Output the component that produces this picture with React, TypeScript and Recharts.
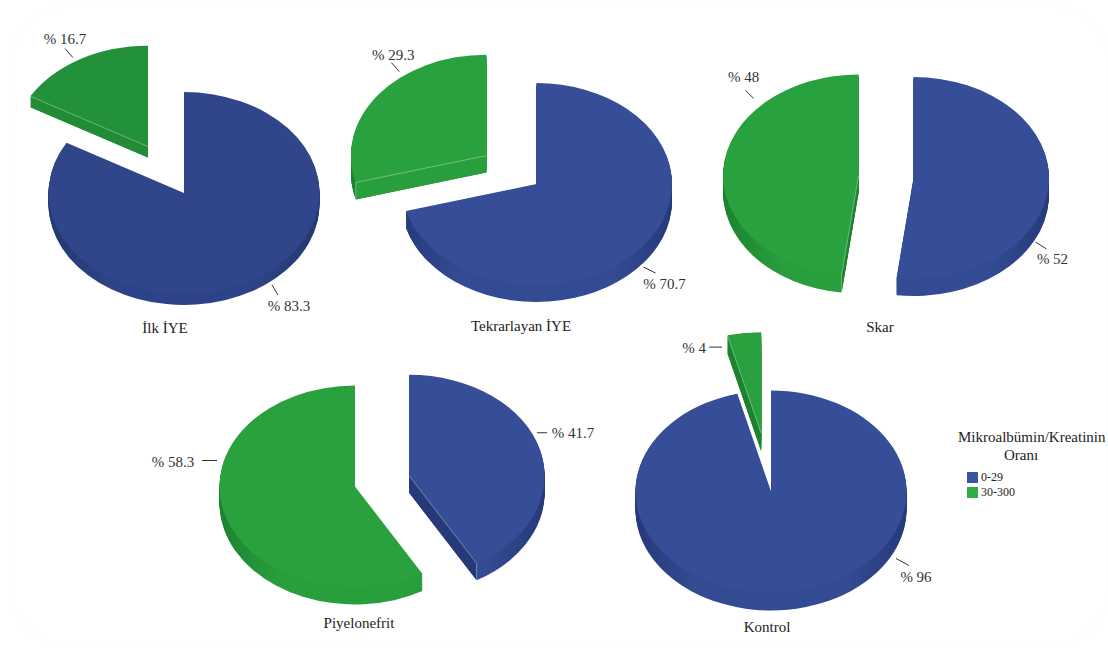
import React from "react";
import { PieChart, Pie, Sector, Legend } from "recharts";

const groups = ["İlk İYE", "Tekrarlayan İYE", "Skar", "Piyelonefrit", "Kontrol"];
const seriesNames = ["0-29", "30-300"];
const lowValues = [83.3, 70.7, 52, 41.7, 96];
const highValues = [16.7, 29.3, 48, 58.3, 4];
const legendTitle = "Mikroalbümin/Kreatinin";
const legendSubtitle = "Oranı";

const RAD = Math.PI / 180;
const RADIUS = 135.5;
const FLATTEN = 0.745;
const FONT = '"Liberation Serif", "Times New Roman", serif';

type Leader = { from: number[]; to: number[]; text: number[] };
type Layout = {
  cx: number;
  cy: number;
  depth: number;
  explode: number[];
  colors: string[];
  walls: string[][];
  title: number[];
  leaders: Leader[];
};

const BLUE = "#354e97";
const GREEN = "#29a13f";
const BLUE_WALL = ["#263a7a", "#334b93"];
const GREEN_WALL = ["#1c8230", "#289e3d"];

// each group: centre of the top face, wall height, how far each slice is pulled out
const layouts: Layout[] = [
  {
    cx: 184, cy: 193, depth: 11, explode: [0, 72],
    colors: ["#30458a", "#239139"],
    walls: [["#243872", "#2e4387"], ["#1a7a2d", "#218b36"]],
    title: [165, 328],
    leaders: [
      { from: [88, 92], to: [94, 102], text: [105, 113] },
      { from: [-75, -89], to: [-83, -98], text: [-83, -108] },
    ],
  },
  {
    cx: 536.5, cy: 184, depth: 17, explode: [0, 63],
    colors: [BLUE, GREEN], walls: [BLUE_WALL, GREEN_WALL],
    title: [521, 326],
    leaders: [
      { from: [107, 83], to: [119, 89], text: [128, 100] },
      { from: [-87, -84], to: [-95, -93], text: [-93, -101] },
    ],
  },
  {
    cx: 913.5, cy: 178, depth: 17, explode: [0, 55],
    colors: [BLUE, GREEN], walls: [BLUE_WALL, GREEN_WALL],
    title: [880, 327],
    leaders: [
      { from: [122, 64], to: [133, 71], text: [139, 81] },
      { from: [-105, -77], to: [-113, -85], text: [-115, -98] },
    ],
  },
  {
    cx: 355, cy: 486.5, depth: 17, explode: [56, 0],
    colors: [BLUE, GREEN], walls: [BLUE_WALL, GREEN_WALL],
    title: [359, 623],
    leaders: [
      { from: [128, -43], to: [138, -43], text: [164, -43] },
      { from: [-138, -26], to: [-153, -26], text: [-182, -25] },
    ],
  },
  {
    cx: 771, cy: 491.5, depth: 18, explode: [0, 79],
    colors: [BLUE, GREEN], walls: [BLUE_WALL, GREEN_WALL],
    title: [767, 627],
    leaders: [
      { from: [125, 67], to: [138, 74], text: [145, 85] },
      { from: [-39, -86], to: [-52, -86], text: [-67, -85] },
    ],
  },
];

const legendColors = ["#3a54a5", "#2cae48"];

const sliceOffset = (midAngle: number, dist: number) => [
  Math.cos(midAngle * RAD) * dist,
  -Math.sin(midAngle * RAD) * dist * FLATTEN,
];

// one slice: darker copies stacked downward for the wall, the top face last
function Slice3D(props: any, layoutIndex: number) {
  const { cx, cy, startAngle, endAngle, midAngle, index } = props;
  const cfg = layouts[layoutIndex];
  const [ox, oy] = sliceOffset(midAngle, cfg.explode[index]);
  const face = (dy: number) =>
    `translate(${ox} ${oy + dy}) translate(${cx} ${cy}) scale(1 ${FLATTEN}) translate(${-cx} ${-cy})`;
  const gradId = `wall-${layoutIndex}-${index}`;
  const [dark, mid] = cfg.walls[index];
  const sector = (fill: string) => (
    <Sector cx={cx} cy={cy} innerRadius={0} outerRadius={RADIUS}
      startAngle={startAngle} endAngle={endAngle} fill={fill} stroke="none" />
  );

  const layers = [];
  for (let i = cfg.depth; i > 0; i--) {
    layers.push(<g key={i} transform={face(i)}>{sector(`url(#${gradId})`)}</g>);
  }

  // cut edges whose wall faces the viewer get a flat face and a light seam
  const ax = cx + ox;
  const ay = cy + oy;
  const cuts = [
    { angle: startAngle, visible: Math.cos(startAngle * RAD) < -0.01 },
    { angle: endAngle, visible: Math.cos(endAngle * RAD) > 0.01 },
  ].filter((s) => s.visible);

  return (
    <g>
      <defs>
        <linearGradient id={gradId} gradientUnits="userSpaceOnUse"
          x1={cx - RADIUS} y1="0" x2={cx + RADIUS} y2="0">
          <stop offset="0" stopColor={dark} />
          <stop offset="0.22" stopColor={mid} />
          <stop offset="0.78" stopColor={mid} />
          <stop offset="1" stopColor={dark} />
        </linearGradient>
      </defs>
      {layers}
      <g transform={face(0)}>{sector(cfg.colors[index])}</g>
      {cuts.map((s) => {
        const ex = ax + Math.cos(s.angle * RAD) * RADIUS;
        const ey = ay - Math.sin(s.angle * RAD) * RADIUS * FLATTEN;
        // steep cuts turn away from the light
        const steep = Math.abs(Math.cos(s.angle * RAD)) < 0.6;
        return (
          <g key={s.angle}>
            <polygon
              points={`${ax},${ay} ${ex},${ey} ${ex},${ey + cfg.depth} ${ax},${ay + cfg.depth}`}
              fill={steep ? dark : mid}
            />
            <g stroke="#ffffff" strokeOpacity={0.35} fill="none">
              <line x1={ax} y1={ay} x2={ex} y2={ey} />
              <line x1={ex} y1={ey} x2={ex} y2={ey + cfg.depth} />
            </g>
          </g>
        );
      })}
    </g>
  );
}

function SliceLabel(props: any, layoutIndex: number) {
  const { midAngle, index, value } = props;
  const cfg = layouts[layoutIndex];
  const [ox, oy] = sliceOffset(midAngle, cfg.explode[index]);
  const x = cfg.cx + ox;
  const y = cfg.cy + oy;
  const { from, to, text } = cfg.leaders[index];
  return (
    <g>
      <line x1={x + from[0]} y1={y + from[1]} x2={x + to[0]} y2={y + to[1]} stroke="#333333" />
      <text x={x + text[0]} y={y + text[1]} textAnchor="middle" dominantBaseline="central"
        fontFamily={FONT} fontSize={15} fill="#333333">
        {`% ${value}`}
      </text>
    </g>
  );
}

function LegendBox() {
  return (
    <div style={{ fontFamily: FONT, color: "#222222", width: 150 }}>
      <div style={{ fontSize: 15, lineHeight: "18px", whiteSpace: "nowrap" }}>{legendTitle}</div>
      <div style={{ fontSize: 15, lineHeight: "18px", paddingLeft: 46 }}>{legendSubtitle}</div>
      <div style={{ marginTop: 6, paddingLeft: 9 }}>
        {seriesNames.map((name, i) => (
          <div key={name} style={{ display: "flex", alignItems: "center", height: 15, fontSize: 12 }}>
            <span style={{ width: 11, height: 11, background: legendColors[i], marginRight: 3 }} />
            {name}
          </div>
        ))}
      </div>
    </div>
  );
}

export default function App() {
  return (
    <div style={{ position: "absolute", left: 0, top: 0, width: 1108, height: 649 }}>
      <PieChart width={1108} height={649} margin={{ top: 0, right: 0, bottom: 0, left: 0 }}>
        {/* faint rounded frame of the plot area */}
        <rect x={13} y={7} width={1094} height={636} rx={50} fill="none" stroke="#fcfcfc" />
        {groups.map((group, g) => (
          <Pie
            key={group}
            data={[
              { name: seriesNames[0], value: lowValues[g] },
              { name: seriesNames[1], value: highValues[g] },
            ]}
            dataKey="value"
            nameKey="name"
            cx={layouts[g].cx}
            cy={layouts[g].cy}
            outerRadius={RADIUS}
            startAngle={90}
            endAngle={-270}
            stroke="none"
            isAnimationActive={false}
            shape={(p: any) => Slice3D(p, g)}
            label={(p: any) => SliceLabel(p, g)}
            labelLine={false}
          />
        ))}
        {groups.map((group, g) => (
          <text key={group} x={layouts[g].title[0]} y={layouts[g].title[1]} textAnchor="middle"
            dominantBaseline="central" fontFamily={FONT} fontSize={15} fill="#222222">
            {group}
          </text>
        ))}
        <Legend
          content={() => <LegendBox />}
          wrapperStyle={{ position: "absolute", left: 958, top: 428, width: 150, bottom: "auto" }}
        />
      </PieChart>
    </div>
  );
}
